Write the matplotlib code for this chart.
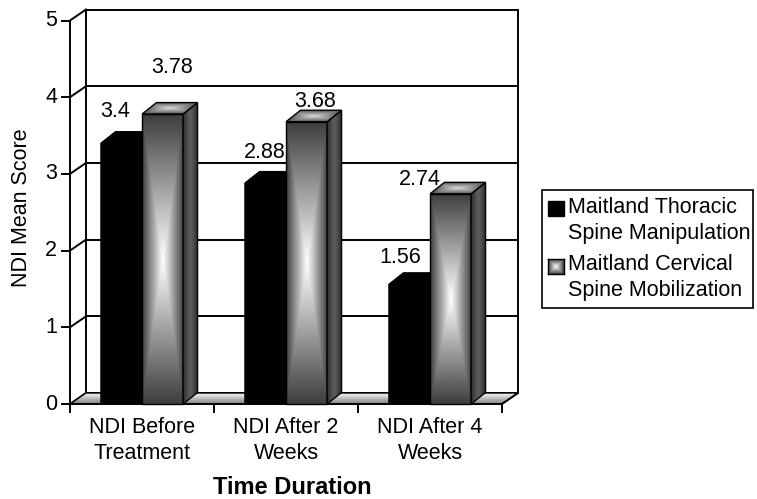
import numpy as np
import matplotlib
matplotlib.use('Agg')
import matplotlib.pyplot as plt
from matplotlib.patches import Polygon, Rectangle

categories = ['NDI Before\nTreatment', 'NDI After 2\nWeeks', 'NDI After 4\nWeeks']
thoracic = [3.4, 2.88, 1.56]
cervical = [3.78, 3.68, 2.74]
series_names = ['Maitland Thoracic\nSpine Manipulation', 'Maitland Cervical\nSpine Mobilization']
y_ticks = [0, 1, 2, 3, 4, 5]
# where the value labels sit, in pixels from the front top edge of each bar
thoracic_label_offsets = [(-6, 32), (-1, 31), (-9, 27)]
cervical_label_offsets = [(10, 47), (9, 20), (-31, 14)]

plt.rcParams['font.family'] = ['Liberation Sans', 'DejaVu Sans']
fs = 15.5

W, H = 757, 499
fig = plt.figure(figsize=(W / 100, H / 100), dpi=100)

# front frame: origin at pixel (70, 95) from bottom left
x0_px, y0_px = 70, 95
cat_px, unit_px = 144, 76.7
xlim = (-0.1, 3.25)
ylim = (-0.1, 5.25)
ax = fig.add_axes([(x0_px + xlim[0] * cat_px) / W, (y0_px + ylim[0] * unit_px) / H,
                   (xlim[1] - xlim[0]) * cat_px / W, (ylim[1] - ylim[0]) * unit_px / H])
ax.axis('off')

n = len(categories)
ymax = y_ticks[-1]
wdx, wdy = 16 / cat_px, 11 / unit_px   # depth of the walls
bdx, bdy = 14.5 / cat_px, 11.5 / unit_px  # depth of the bars
bw = 0.285
lw = 1.4

# gradients
u = np.linspace(-1, 1, 80)
v = np.linspace(-1, 1, 300)
d = np.maximum(np.abs(u)[None, :], np.abs(v)[:, None])
front_img = 1 - 0.76 * d
side_img = np.tile(0.18 + 0.2 * (1 - np.abs(u)), (2, 1))
top_img = 0.3 + 0.55 * (1 - d)
floor_img = np.tile(np.linspace(0.5, 0.97, 50)[:, None], (1, 2))


def gradient_fill(verts, img, z):
    patch = Polygon(verts, closed=True, facecolor='none', edgecolor='none')
    ax.add_patch(patch)
    xs = [p[0] for p in verts]
    ys = [p[1] for p in verts]
    im = ax.imshow(img, extent=[min(xs), max(xs), min(ys), max(ys)], origin='lower',
                   cmap='gray', vmin=0, vmax=1, aspect='auto', interpolation='bilinear', zorder=z)
    im.set_clip_path(patch)
    ax.add_patch(Polygon(verts, closed=True, facecolor='none', edgecolor='black', lw=1, zorder=z + 0.1))


# back wall and grid
for k in y_ticks:
    ax.plot([wdx, n + wdx], [k + wdy, k + wdy], color='black', lw=lw, zorder=1)
    ax.plot([0, wdx], [k, k + wdy], color='black', lw=lw, zorder=1)
    ax.plot([-8 / cat_px, 0], [k, k], color='black', lw=lw, zorder=1, clip_on=False)
    ax.annotate(str(k), xy=(0, k), xytext=(-13, 0), textcoords='offset pixels',
                ha='right', va='center', fontsize=fs)
ax.plot([wdx, wdx], [wdy, ymax + wdy], color='black', lw=lw, zorder=1)
ax.plot([n + wdx, n + wdx], [wdy, ymax + wdy], color='black', lw=lw, zorder=1)
ax.plot([0, 0], [0, ymax], color='black', lw=lw, zorder=1)

# floor
gradient_fill([(0, 0), (n, 0), (n + wdx, wdy), (wdx, wdy)], floor_img, 2)
ax.plot([0, n], [0, 0], color='black', lw=lw, zorder=2.5)
ax.plot([n, n + wdx], [0, wdy], color='black', lw=lw, zorder=2.5)
for i in range(n + 1):
    ax.plot([i, i], [0, -8 / unit_px], color='black', lw=lw, clip_on=False)
for i, c in enumerate(categories):
    ax.annotate(c, xy=(i + 0.5, 0), xytext=(0, -13), textcoords='offset pixels',
                ha='center', va='top', fontsize=fs, linespacing=1.3)

# bars
for i in range(n):
    z = 3 + i
    # thoracic: solid black
    xl, xr, val = i + 0.5 - bw, i + 0.5, thoracic[i]
    ax.add_patch(Polygon([(xl, 0), (xr, 0), (xr + bdx, bdy), (xr + bdx, val + bdy),
                          (xl + bdx, val + bdy), (xl, val)], closed=True,
                         facecolor='black', edgecolor='black', lw=1, zorder=z))
    ax.annotate(str(thoracic[i]), xy=((xl + xr) / 2, val), xytext=thoracic_label_offsets[i],
                textcoords='offset pixels', ha='center', va='center', fontsize=fs, zorder=10)
    # cervical: gradient
    xl, xr, val = i + 0.5, i + 0.5 + bw, cervical[i]
    gradient_fill([(xl, 0), (xr, 0), (xr, val), (xl, val)], front_img, z + 0.2)
    gradient_fill([(xr, 0), (xr + bdx, bdy), (xr + bdx, val + bdy), (xr, val)], side_img, z + 0.4)
    gradient_fill([(xl, val), (xr, val), (xr + bdx, val + bdy), (xl + bdx, val + bdy)], top_img, z + 0.6)
    ax.annotate(str(cervical[i]), xy=((xl + xr) / 2, val), xytext=cervical_label_offsets[i],
                textcoords='offset pixels', ha='center', va='center', fontsize=fs, zorder=10)

ax.set_xlim(xlim)
ax.set_ylim(ylim)

fig.text(22 / W, 1 - 208 / H, 'NDI Mean Score', rotation=90, ha='center', va='center', fontsize=fs)
fig.text(292 / W, 1 - 488 / H, 'Time Duration', ha='center', va='center', fontsize=17, fontweight='bold')

# legend
fig.add_artist(Rectangle((542 / W, 1 - 308 / H), 211 / W, 118 / H, transform=fig.transFigure,
                         facecolor='white', edgecolor='black', lw=1.2, zorder=1))
fig.add_artist(Rectangle((548 / W, 1 - 216 / H), 16 / W, 15 / H, transform=fig.transFigure,
                         facecolor='black', edgecolor='black', lw=1, zorder=2))
lax = fig.add_axes([548 / W, 1 - 274 / H, 16 / W, 15 / H], zorder=3)
lax.imshow(front_img, cmap='gray', vmin=0, vmax=1, aspect='auto', interpolation='bilinear')
lax.set_xticks([])
lax.set_yticks([])
for s in lax.spines.values():
    s.set_linewidth(1)
for name, ytop in zip(series_names, [197, 254]):
    fig.text(568 / W, 1 - ytop / H, name, ha='left', va='top', fontsize=fs, linespacing=1.3, zorder=2)

fig.savefig('out.png', dpi=100)
